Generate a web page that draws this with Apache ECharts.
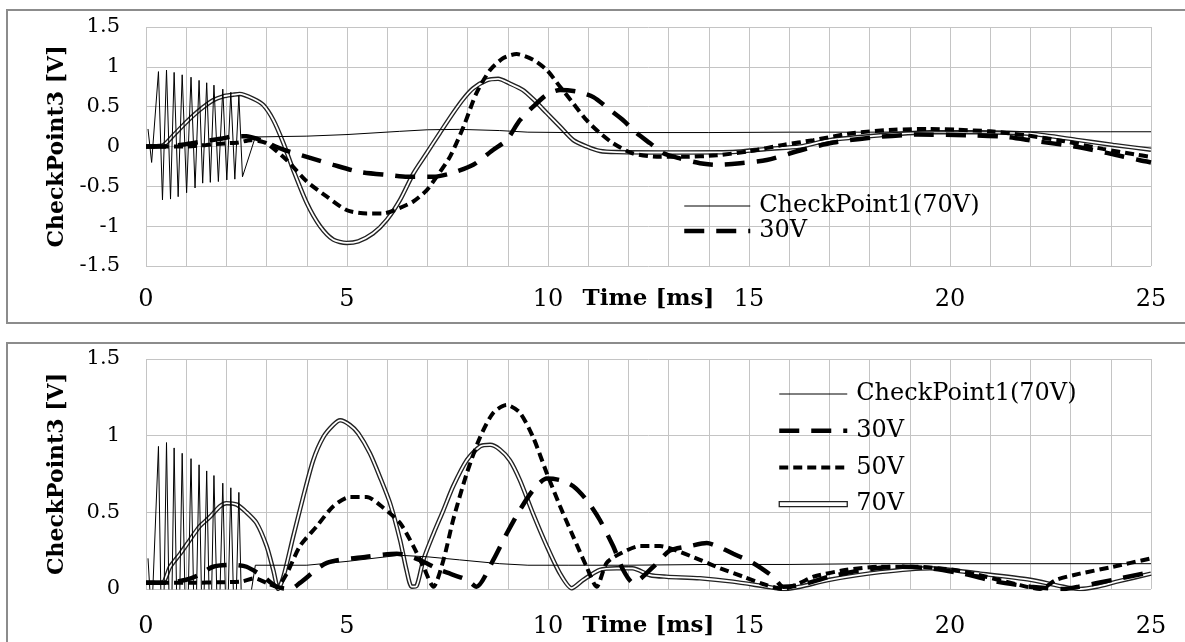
<!DOCTYPE html>
<html>
<head>
<meta charset="utf-8">
<script src="https://cdn.jsdelivr.net/npm/echarts@6/dist/echarts.min.js"></script>
<style>
html,body{margin:0;padding:0;background:#fff;overflow:hidden;width:1185px;height:642px;}
.box{position:absolute;left:6px;width:1200px;border:2px solid #8c8c8c;background:#fff;}
#c1{top:9px;height:311px;}
#c2{top:342px;height:320px;}
</style>
</head>
<body>
<div id="c1" class="box"></div>
<div id="c2" class="box"></div>
<script>
// ---------- shared ----------
const xTicksMajor = [0, 5, 10, 15, 20, 25];
const seriesNames = ['CheckPoint1(70V)', '30V', '50V', '70V'];
const xTitle = 'Time [ms]';
const yTitle = 'CheckPoint3 [V]';

// CheckPoint1 (thin line) times, shared by both panels
const tCP1 = [0.05,0.14,0.31,0.41,0.51,0.61,0.70,0.80,0.90,1.01,1.12,1.22,1.32,1.41,1.51,1.60,1.69,1.80,1.91,2.01,2.11,2.21,2.31,2.40,2.72,4.0,5.0,6.3,7.0,7.8,8.8,9.5,10.5,12,14,16,18,20,22,24,25];
// ---------- top panel ----------
const cp1Top = [0.22,-0.2,0.94,-0.67,0.96,-0.66,0.93,-0.63,0.90,-0.58,0.87,-0.52,0.83,-0.46,0.80,-0.45,0.77,-0.44,0.72,-0.42,0.68,-0.41,0.64,-0.38,0.12,0.13,0.15,0.19,0.21,0.215,0.2,0.18,0.175,0.175,0.175,0.18,0.18,0.185,0.185,0.185,0.185];

const t70Top = [0,0.4,0.68,1.01,1.34,1.67,1.92,2.17,2.33,2.67,2.92,3.17,3.42,3.66,4.0,4.33,4.66,4.99,5.28,5.65,5.99,6.32,6.65,6.98,7.31,7.64,7.9,8.14,8.47,8.76,9.05,9.37,9.62,9.97,10.3,10.63,10.96,11.29,11.71,13,14.6,15.44,16.27,17.0,18.26,19.5,20.75,22.0,23.2,24.06,25];
const v70Top = [0,0.01,0.14,0.31,0.46,0.58,0.63,0.65,0.66,0.60,0.52,0.33,0.04,-0.29,-0.71,-1.0,-1.17,-1.21,-1.19,-1.09,-0.92,-0.67,-0.34,-0.085,0.17,0.42,0.6,0.73,0.83,0.85,0.79,0.71,0.60,0.42,0.25,0.08,0.0,-0.056,-0.07,-0.075,-0.07,-0.03,0.0,0.08,0.14,0.18,0.18,0.16,0.08,0.02,-0.04];

const t50Top = [0,0.5,1.0,1.5,2.0,2.3,2.6,2.8,3.0,3.5,4.0,4.5,5.0,5.49,5.9,6.32,6.65,6.98,7.23,7.56,7.9,8.22,8.56,8.89,9.22,9.63,9.97,10.3,10.63,10.96,11.29,11.62,12.1,12.79,13.37,14.2,15.0,15.85,16.6,17.6,18.6,19.5,20.2,21.0,21.9,22.8,23.8,24.6,25];
const v50Top = [0,0,0,0.02,0.04,0.05,0.08,0.07,0.04,-0.17,-0.44,-0.63,-0.80,-0.84,-0.84,-0.77,-0.69,-0.55,-0.38,-0.13,0.25,0.67,0.96,1.11,1.16,1.09,0.96,0.75,0.54,0.33,0.17,0.04,-0.085,-0.13,-0.13,-0.11,-0.06,0.02,0.08,0.17,0.21,0.22,0.21,0.19,0.14,0.07,-0.03,-0.1,-0.13];

const t30Top = [0,0.5,1.0,1.5,1.9,2.2,2.5,2.8,3.0,3.42,4.0,4.66,5.32,6.07,6.5,7.15,7.56,8.14,8.64,8.97,9.3,9.63,9.97,10.3,10.71,11.13,11.54,11.87,12.2,12.54,12.87,13.28,13.78,14.2,14.78,15.44,16.27,17.1,18.2,19.2,20.6,21.4,22.1,23.1,23.9,24.7,25];
const v30Top = [0,0,0.03,0.07,0.1,0.13,0.13,0.09,0.05,-0.04,-0.13,-0.23,-0.32,-0.36,-0.38,-0.38,-0.34,-0.23,-0.04,0.08,0.33,0.5,0.65,0.71,0.69,0.62,0.46,0.33,0.17,0.04,-0.085,-0.15,-0.21,-0.23,-0.21,-0.17,-0.05,0.05,0.12,0.15,0.14,0.12,0.07,0.0,-0.08,-0.17,-0.2];

// ---------- bottom panel ----------
const cp1Bot = [0.2,-0.2,0.93,-0.67,0.955,-0.66,0.92,-0.63,0.885,-0.58,0.85,-0.52,0.81,-0.46,0.77,-0.45,0.74,-0.44,0.69,-0.42,0.66,-0.41,0.63,-0.38,0.155,0.155,0.18,0.22,0.21,0.19,0.165,0.155,0.155,0.155,0.16,0.16,0.165,0.165,0.165,0.165,0.165];

const t70Bot = [0,0.4,0.6,0.85,1.09,1.34,1.59,1.84,2.0,2.26,2.5,2.75,3.0,3.17,3.29,3.42,3.66,3.91,4.16,4.41,4.66,4.83,5.07,5.28,5.57,5.82,6.07,6.32,6.48,6.61,6.73,6.9,7.15,7.4,7.64,7.98,8.31,8.56,8.8,9.05,9.3,9.63,9.97,10.3,10.59,10.88,11.29,11.71,12.1,12.54,12.95,13.78,14.6,15.44,15.85,16.27,17.0,18.26,19.5,20.75,22.0,23.23,23.65,24.15,25];
const v70Bot = [0.04,0.04,0.145,0.23,0.32,0.41,0.47,0.54,0.56,0.55,0.50,0.43,0.28,0.12,0.0,0.08,0.34,0.60,0.84,0.99,1.07,1.10,1.07,1.015,0.885,0.73,0.56,0.32,0.125,0.015,0.02,0.19,0.36,0.515,0.67,0.84,0.93,0.94,0.91,0.84,0.71,0.49,0.28,0.10,0.005,0.06,0.125,0.135,0.135,0.09,0.08,0.07,0.048,0.015,0.0,0.015,0.06,0.11,0.135,0.10,0.06,0.0,0.015,0.048,0.1];

const t50Bot = [0,1.0,2.0,2.4,2.7,3.0,3.25,3.5,3.83,4.25,4.66,5.07,5.49,5.9,6.32,6.65,6.9,7.15,7.4,7.64,7.98,8.31,8.64,8.97,9.3,9.63,9.97,10.3,10.63,10.96,11.21,11.46,11.79,12.29,12.79,13.2,13.78,14.28,14.86,15.44,15.85,16.27,16.6,17.43,18.26,19.09,20.08,20.9,21.74,22.24,22.65,23.23,24.06,25];
const v50Bot = [0.04,0.04,0.045,0.05,0.07,0.04,0.015,0.10,0.28,0.41,0.54,0.60,0.60,0.53,0.43,0.28,0.145,0.015,0.19,0.45,0.755,0.99,1.15,1.20,1.15,0.99,0.755,0.54,0.34,0.145,0.015,0.17,0.23,0.28,0.28,0.25,0.19,0.135,0.08,0.025,0.0,0.04,0.08,0.125,0.145,0.145,0.125,0.08,0.025,0.0,0.06,0.10,0.145,0.2];

const t30Bot = [0,0.5,1.0,1.3,1.67,2.17,2.5,2.92,3.25,3.6,3.83,4.5,5.49,6.24,6.8,7.3,7.98,8.22,8.64,8.97,9.3,9.63,9.97,10.3,10.63,10.96,11.29,11.62,11.87,12.12,12.62,13.03,13.53,13.95,14.2,14.61,15.1,15.6,15.85,16.27,17.0,17.84,18.67,19.5,20.33,21.16,22.0,22.8,23.2,24.06,25];
const v30Bot = [0.04,0.04,0.06,0.09,0.145,0.157,0.145,0.08,0.015,0.0,0.04,0.17,0.21,0.23,0.19,0.125,0.06,0.015,0.19,0.36,0.515,0.645,0.72,0.71,0.67,0.58,0.45,0.28,0.124,0.04,0.145,0.25,0.28,0.30,0.28,0.23,0.17,0.08,0.015,0.025,0.08,0.125,0.145,0.135,0.10,0.048,0.015,0.0,0.015,0.06,0.11];

function zip(t, v) { return t.map((x, i) => [x, v[i]]); }

const FONT = 'DejaVu Serif';
const HIDDEN_SYMBOL = { color: 'rgba(0,0,0,0)', borderWidth: 0, opacity: 0 };

function buildOption(cfg) {
  const legendData = cfg.legendNames.map(n => {
    if (n === '70V') {
      return { name: n, icon: 'path://M0,0L68,0L68,5L0,5Z',
               itemStyle: { color: '#fff', borderColor: '#222', borderWidth: 1.3, opacity: 1 } };
    }
    return { name: n, itemStyle: HIDDEN_SYMBOL };
  });
  return {
    animation: false,
    backgroundColor: '#fff',
    grid: { left: 138, width: 1005, top: cfg.gridTop, height: cfg.gridHeight,
            containLabel: false, outerBoundsMode: 'none' },
    legend: {
      orient: 'vertical', left: cfg.legendLeft, top: cfg.legendTop,
      itemWidth: cfg.legendItemWidth, itemHeight: 14, itemGap: cfg.legendGap,
      padding: 0, selectedMode: false,
      lineStyle: { width: 'inherit', type: 'inherit', color: 'inherit' },
      textStyle: { fontFamily: FONT, fontSize: 24, color: '#000', lineHeight: 24, padding: [0, 0, 0, 4] },
      data: legendData
    },
    xAxis: {
      type: 'value', min: 0, max: 25, interval: 1,
      axisLine: { show: false }, axisTick: { show: false },
      splitLine: { show: true, lineStyle: { color: '#c4c4c4', width: 1 } },
      axisLabel: {
        margin: cfg.xMargin, fontFamily: FONT, fontSize: 24, color: '#000',
        formatter: v => (xTicksMajor.indexOf(v) >= 0 ? String(v) : '')
      },
      name: xTitle, nameLocation: 'middle', nameGap: cfg.xMargin, nameMoveOverlap: false,
      nameTextStyle: { fontFamily: FONT, fontSize: 23, fontWeight: 'bold', color: '#000' }
    },
    yAxis: {
      type: 'value', min: cfg.yMin, max: cfg.yMax, interval: 0.5,
      axisLine: { show: false }, axisTick: { show: false },
      splitLine: { show: true, lineStyle: { color: '#c4c4c4', width: 1 } },
      axisLabel: { margin: 26, fontFamily: FONT, fontSize: 21, color: '#000' },
      name: yTitle, nameLocation: 'middle', nameRotate: 90, nameGap: 78, nameMoveOverlap: false,
      nameTextStyle: { fontFamily: FONT, fontSize: 22, fontWeight: 'bold', color: '#000' }
    },
    series: [
      { name: '70V', type: 'line', data: zip(cfg.t70, cfg.v70), symbol: 'none', smooth: 0.25,
        lineStyle: { color: '#222', width: 4.5 }, itemStyle: { color: '#222' }, z: 2 },
      { name: '70V-core', type: 'line', data: zip(cfg.t70, cfg.v70), symbol: 'none', smooth: 0.25,
        lineStyle: { color: '#fff', width: 1.8 }, itemStyle: { color: '#fff' }, z: 3 },
      { name: '50V', type: 'line', data: zip(cfg.t50, cfg.v50), symbol: 'none', smooth: 0.25,
        lineStyle: { color: '#000', width: 4, type: [9, 5] }, itemStyle: { color: '#000' }, z: 4 },
      { name: '30V', type: 'line', data: zip(cfg.t30, cfg.v30), symbol: 'none', smooth: 0.25,
        lineStyle: { color: '#000', width: 4.5, type: [20, 12] }, itemStyle: { color: '#000' }, z: 5 },
      { name: 'CheckPoint1(70V)', type: 'line', data: zip(tCP1, cfg.cp1), symbol: 'none',
        lineStyle: { color: '#000', width: 1 }, itemStyle: { color: '#000' }, z: 6 }
    ]
  };
}

const chartTop = echarts.init(document.getElementById('c1'), null, { renderer: 'canvas' });
chartTop.setOption(buildOption({
  gridTop: 16, gridHeight: 239, yMin: -1.5, yMax: 1.5, xMargin: 22,
  legendLeft: 674, legendTop: 183, legendItemWidth: 66, legendGap: 1,
  legendNames: [seriesNames[0], seriesNames[1]],
  t70: t70Top, v70: v70Top, t50: t50Top, v50: v50Top, t30: t30Top, v30: v30Top, cp1: cp1Top
}));

const chartBot = echarts.init(document.getElementById('c2'), null, { renderer: 'canvas' });
chartBot.setOption(buildOption({
  gridTop: 15, gridHeight: 230, yMin: 0, yMax: 1.5, xMargin: 26,
  legendLeft: 769, legendTop: 38, legendItemWidth: 68, legendGap: 12.7,
  legendNames: seriesNames,
  t70: t70Bot, v70: v70Bot, t50: t50Bot, v50: v50Bot, t30: t30Bot, v30: v30Bot, cp1: cp1Bot
}));
</script>
</body>
</html>
